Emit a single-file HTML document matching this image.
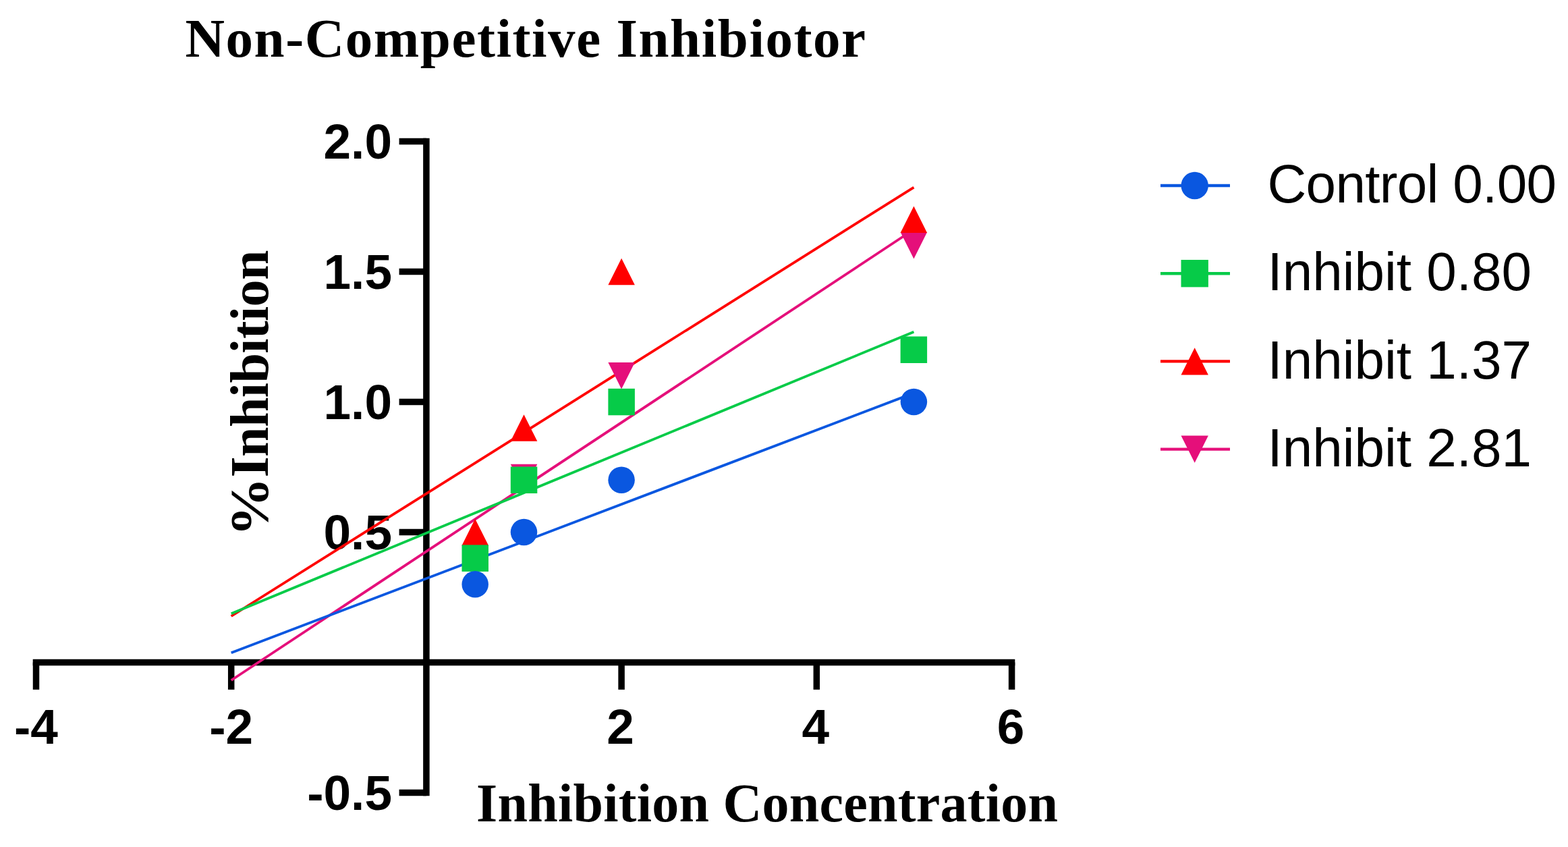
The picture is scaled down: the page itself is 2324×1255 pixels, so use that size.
<!DOCTYPE html>
<html lang="en">
<head>
<meta charset="utf-8">
<title>Non-Competitive Inhibiotor</title>
<style>
html,body{margin:0;padding:0;background:#fff;}
body{width:2324px;height:1255px;overflow:hidden;}
svg{display:block;}
.ser{font-family:"Liberation Serif",serif;font-weight:bold;fill:#000;}
.tick{font-family:"Liberation Sans",sans-serif;font-weight:bold;font-size:73px;fill:#000;}
.leg{font-family:"Liberation Sans",sans-serif;font-size:80px;fill:#000;}
</style>
</head>
<body>
<svg width="2324" height="1255" viewBox="0 0 2324 1255">
<rect x="0" y="0" width="2324" height="1255" fill="#ffffff"/>

<text class="ser" x="274.5" y="84" font-size="81" textLength="1008.5" lengthAdjust="spacing">Non-Competitive Inhibiotor</text>
<text class="ser" x="706" y="1216.5" font-size="80" textLength="862" lengthAdjust="spacing">Inhibition Concentration</text>
<text class="ser" font-size="80" transform="translate(397,795) rotate(-90)"><tspan x="0" y="0" textLength="88" lengthAdjust="spacingAndGlyphs">%</tspan><tspan x="87.5" y="0" textLength="337" lengthAdjust="spacing">Inhibition</tspan></text>
<g stroke="#000" stroke-width="9.5" fill="none" stroke-linecap="butt">
<line x1="631.9" y1="204.75" x2="631.9" y2="1179.25"/>
<line x1="591.6" y1="209.5" x2="631.9" y2="209.5"/>
<line x1="591.6" y1="402.5" x2="631.9" y2="402.5"/>
<line x1="591.6" y1="595.5" x2="631.9" y2="595.5"/>
<line x1="591.6" y1="788.5" x2="631.9" y2="788.5"/>
<line x1="591.6" y1="1174.5" x2="631.9" y2="1174.5"/>
<line x1="48.71" y1="981.5" x2="1504.31" y2="981.5"/>
<line x1="53.5" y1="981.5" x2="53.5" y2="1021.8"/>
<line x1="342.7" y1="981.5" x2="342.7" y2="1021.8"/>
<line x1="921.1" y1="981.5" x2="921.1" y2="1021.8"/>
<line x1="1210.3" y1="981.5" x2="1210.3" y2="1021.8"/>
<line x1="1499.6" y1="981.5" x2="1499.6" y2="1021.8"/>
</g>
<g class="tick" text-anchor="end">
<text x="581" y="234.8">2.0</text>
<text x="581" y="427.8">1.5</text>
<text x="581" y="620.8">1.0</text>
<text x="581" y="813.8">0.5</text>
<text x="581" y="1199.8">-0.5</text>
</g>
<g class="tick" text-anchor="middle">
<text x="53.5" y="1101.8">-4</text>
<text x="342.7" y="1101.8">-2</text>
<text x="919.6" y="1101.8">2</text>
<text x="1208.8" y="1101.8">4</text>
<text x="1498.1" y="1101.8">6</text>
</g>
<g fill="none">
<line x1="342.7" y1="1008.0" x2="1354.4" y2="340.0" stroke="#E50F7A" stroke-width="3.8"/>
<line x1="342.7" y1="913.0" x2="1354.4" y2="277.6" stroke="#FF0000" stroke-width="3.8"/>
<line x1="342.7" y1="909.2" x2="1354.4" y2="491.7" stroke="#06CB48" stroke-width="3.8"/>
<line x1="342.7" y1="967.2" x2="1354.4" y2="582.4" stroke="#0A57E0" stroke-width="3.8"/>
</g>
<g>
<polygon points="704.2,846.9 724.0,807.4 684.5,807.4" fill="#E50F7A"/>
<polygon points="776.5,727.2 796.3,687.7 756.8,687.7" fill="#E50F7A"/>
<polygon points="921.1,576.6 940.9,537.1 901.4,537.1" fill="#E50F7A"/>
<polygon points="1354.4,383.6 1374.1,344.1 1334.6,344.1" fill="#E50F7A"/>
</g>
<g>
<polygon points="704.2,768.8 724.0,808.2 684.5,808.2" fill="#FF0000"/>
<polygon points="776.5,614.3 796.3,653.8 756.8,653.8" fill="#FF0000"/>
<polygon points="921.1,382.8 940.9,422.2 901.4,422.2" fill="#FF0000"/>
<polygon points="1354.4,305.6 1374.1,345.1 1334.6,345.1" fill="#FF0000"/>
</g>
<g>
<rect x="684.5" y="807.4" width="39.5" height="39.5" fill="#06CB48"/>
<rect x="756.8" y="691.5" width="39.5" height="39.5" fill="#06CB48"/>
<rect x="901.4" y="575.8" width="39.5" height="39.5" fill="#06CB48"/>
<rect x="1334.6" y="498.5" width="39.5" height="39.5" fill="#06CB48"/>
</g>
<g>
<circle cx="704.2" cy="865.7" r="19.75" fill="#0A57E0"/>
<circle cx="776.5" cy="788.5" r="19.75" fill="#0A57E0"/>
<circle cx="921.1" cy="711.3" r="19.75" fill="#0A57E0"/>
<circle cx="1354.4" cy="595.5" r="19.75" fill="#0A57E0"/>
</g>
<line x1="1720" y1="275.0" x2="1823" y2="275.0" stroke="#0A57E0" stroke-width="4.4"/>
<circle cx="1770.7" cy="275.0" r="20.20" fill="#0A57E0"/>
<text class="leg" x="1878.5" y="300.2" textLength="428.5" lengthAdjust="spacing">Control 0.00</text>
<line x1="1720" y1="405.2" x2="1823" y2="405.2" stroke="#06CB48" stroke-width="4.4"/>
<rect x="1750.5" y="385.0" width="40.4" height="40.4" fill="#06CB48"/>
<text class="leg" x="1878.5" y="430.4">Inhibit 0.80</text>
<line x1="1720" y1="535.4" x2="1823" y2="535.4" stroke="#FF0000" stroke-width="4.4"/>
<polygon points="1770.7,515.2 1790.9,555.6 1750.5,555.6" fill="#FF0000"/>
<text class="leg" x="1878.5" y="560.6">Inhibit 1.37</text>
<line x1="1720" y1="665.6" x2="1823" y2="665.6" stroke="#E50F7A" stroke-width="4.4"/>
<polygon points="1770.7,685.8 1790.9,645.4 1750.5,645.4" fill="#E50F7A"/>
<text class="leg" x="1878.5" y="690.8">Inhibit 2.81</text>
</svg>
</body>
</html>
